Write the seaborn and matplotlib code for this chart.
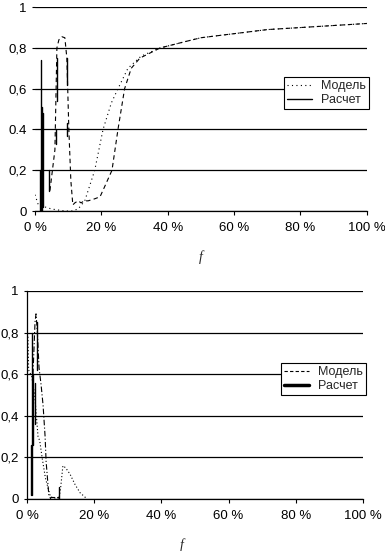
import numpy as np
import pandas as pd
import matplotlib
matplotlib.use("Agg")
import matplotlib.pyplot as plt
import seaborn as sns

# ---- data (f in %, value 0..1) ----
# top panel
top_model_f = [0, 1, 3, 5, 7, 9, 11, 13, 15, 18, 20.5, 23, 25, 28, 32, 37.7, 45, 50, 60, 70, 80, 90, 100]
top_model_y = [0.08, 0.03, 0.02, 0.01, 0.005, 0.0, 0.0, 0.01, 0.05, 0.2, 0.4, 0.53, 0.6, 0.7, 0.76, 0.8, 0.83, 0.85, 0.87, 0.89, 0.9, 0.91, 0.92]

top_alt_f = [4.5, 6.0, 6.6, 7.2, 8.1, 9.0, 9.6, 10.2, 10.8, 11.4, 12, 13, 13.9, 14.8, 16, 18, 19.6, 21, 23.2, 25, 27, 29, 31.6, 37.7, 45, 50, 60, 70, 80, 90, 100]
top_alt_y = [0.1, 0.3, 0.8, 0.84, 0.855, 0.85, 0.75, 0.4, 0.15, 0.03, 0.04, 0.05, 0.04, 0.05, 0.05, 0.06, 0.07, 0.12, 0.2, 0.4, 0.6, 0.7, 0.75, 0.8, 0.83, 0.85, 0.87, 0.89, 0.9, 0.91, 0.92]

# "Расчет" spikes: (f, bottom, top)
top_calc = [(1.8, 0.0, 0.74), (2.2, 0.0, 0.51), (2.4, 0.02, 0.48), (1.6, 0.0, 0.2),
            (2.0, 0.2, 0.36), (4.2, 0.1, 0.2), (6.6, 0.54, 0.75), (6.3, 0.33, 0.4),
            (9.6, 0.62, 0.75), (9.6, 0.37, 0.43)]

# bottom panel
bot_model_f = [0.3, 0.5, 1.4, 2.3, 3.3, 3.8, 4.5, 5.5, 7, 9.5, 10, 10.7, 11.5, 12.8, 14.3, 15.8, 17.9]
bot_model_y = [0.78, 0.62, 0.59, 0.5, 0.3, 0.28, 0.2, 0.1, 0.01, 0.0, 0.05, 0.16, 0.15, 0.12, 0.07, 0.03, 0.0]

bot_alt_f = [1.8, 2.4, 2.7, 3.1, 3.6, 4.2, 4.8, 5.4, 5.7, 6.1, 6.5, 7.1]
bot_alt_y = [0.6, 0.85, 0.89, 0.8, 0.63, 0.55, 0.45, 0.3, 0.18, 0.1, 0.02, 0.0]

bot_calc = [(1.2, 0.02, 0.26), (1.4, 0.02, 0.8), (1.9, 0.26, 0.6), (2.4, 0.36, 0.56),
            (3.1, 0.62, 0.85), (9.6, 0.0, 0.06)]
bot_flat_f = [7.0, 9.5]
bot_flat_y = [0.008, 0.008]

y_ticks = [0, 0.2, 0.4, 0.6, 0.8, 1]
y_labels_top = ["0", "0,2", "0.4", "0,6", "0,8", "1"]
y_labels_bot = ["0", "0,2", "0,4", "0,6", "0,8", "1"]
x_ticks = [0, 20, 40, 60, 80, 100]
x_labels = ["0 %", "20 %", "40 %", "60 %", "80 %", "100 %"]


def spikes_df(spk):
    rows = []
    for i, (f, a, b) in enumerate(spk):
        rows.append((f, a, i))
        rows.append((f, b, i))
    return pd.DataFrame(rows, columns=["f", "v", "seg"])


sns.set_style("white")
plt.rcParams["font.family"] = ["Liberation Sans", "DejaVu Sans"]

fig = plt.figure(figsize=(3.85, 5.51), dpi=100)
ax1 = fig.add_axes([0.0909, 0.617, 0.862, 0.370])
ax2 = fig.add_axes([0.070, 0.0944, 0.873, 0.3775])

lw = 0.8

# ---- top ----
n = len(ax1.lines)
sns.lineplot(x=top_model_f, y=top_model_y, ax=ax1, color="black", lw=lw,
             linestyle=(0, (1, 3)), sort=False, estimator=None)
h_model1 = ax1.lines[n]
sns.lineplot(x=top_alt_f, y=top_alt_y, ax=ax1, color="black", lw=lw,
             linestyle=(0, (4, 3)), sort=False, estimator=None)
n = len(ax1.lines)
sns.lineplot(data=spikes_df(top_calc), x="f", y="v", units="seg", estimator=None,
             sort=False, ax=ax1, color="black", lw=1.0)
h_calc1 = ax1.lines[n]

# ---- bottom ----
n = len(ax2.lines)
sns.lineplot(x=bot_model_f, y=bot_model_y, ax=ax2, color="black", lw=lw,
             linestyle=(0, (1, 2)), sort=False, estimator=None)
h_model2 = ax2.lines[n]
sns.lineplot(x=bot_alt_f, y=bot_alt_y, ax=ax2, color="black", lw=lw,
             linestyle=(0, (5, 2, 1, 2)), sort=False, estimator=None)
n = len(ax2.lines)
sns.lineplot(data=spikes_df(bot_calc), x="f", y="v", units="seg", estimator=None,
             sort=False, ax=ax2, color="black", lw=1.0)
h_calc2 = ax2.lines[n]
sns.lineplot(x=bot_flat_f, y=bot_flat_y, ax=ax2, color="black", lw=lw,
             linestyle=(0, (4, 2)), estimator=None)

for ax, ylab in ((ax1, y_labels_top), (ax2, y_labels_bot)):
    ax.set_xlim(0, 100)
    ax.set_ylim(0, 1)
    ax.set_yticks(y_ticks)
    ax.set_yticklabels(ylab)
    ax.set_xticks(x_ticks)
    ax.set_xticklabels(x_labels)
    ax.yaxis.grid(True, color="black", lw=0.9)
    ax.xaxis.grid(False)
    ax.set_axisbelow(True)
    for s in ("top", "right"):
        ax.spines[s].set_visible(False)
    ax.spines["bottom"].set_color("black")
    ax.spines["bottom"].set_linewidth(0.9)
    ax.tick_params(axis="x", direction="out", length=3, width=0.8, colors="black",
                   pad=5, labelsize=9.5, bottom=True)
    ax.tick_params(axis="y", direction="out", length=2, width=0.8, colors="black",
                   pad=4, labelsize=9.5, left=True)
    ax.set_ylabel("")

ax1.spines["left"].set_visible(False)
ax2.spines["left"].set_color("black")
ax2.spines["left"].set_linewidth(0.9)

ax1.set_xlabel("f", fontstyle="italic", family="Liberation Serif", fontsize=10)
ax1.xaxis.set_label_coords(0.5, -0.19)
ax2.set_xlabel("f", fontstyle="italic", family="Liberation Serif", fontsize=10)
ax2.xaxis.set_label_coords(0.46, -0.19)

leg_kw = dict(frameon=True, fancybox=False, framealpha=1, edgecolor="black",
              fontsize=9, handlelength=2.0, handletextpad=0.7, labelspacing=0.15,
              borderpad=0.25, borderaxespad=0, loc="upper left")
leg1 = ax1.legend([h_model1, h_calc1], ["Модель", "Расчет"],
                  bbox_to_anchor=(0.75, 0.657), **leg_kw)
leg2 = ax2.legend([h_model2, h_calc2], ["Модель", "Расчет"],
                  bbox_to_anchor=(0.756, 0.654), **leg_kw)
for leg in (leg1, leg2):
    leg.get_frame().set_linewidth(0.8)
    leg.set_clip_on(False)
leg2.get_lines()[0].set_linestyle((0, (3, 2)))
leg2.get_lines()[1].set_linewidth(2.5)
leg1.get_lines()[0].set_linestyle((0, (1, 3)))

fig.savefig("out.png", dpi=100)
